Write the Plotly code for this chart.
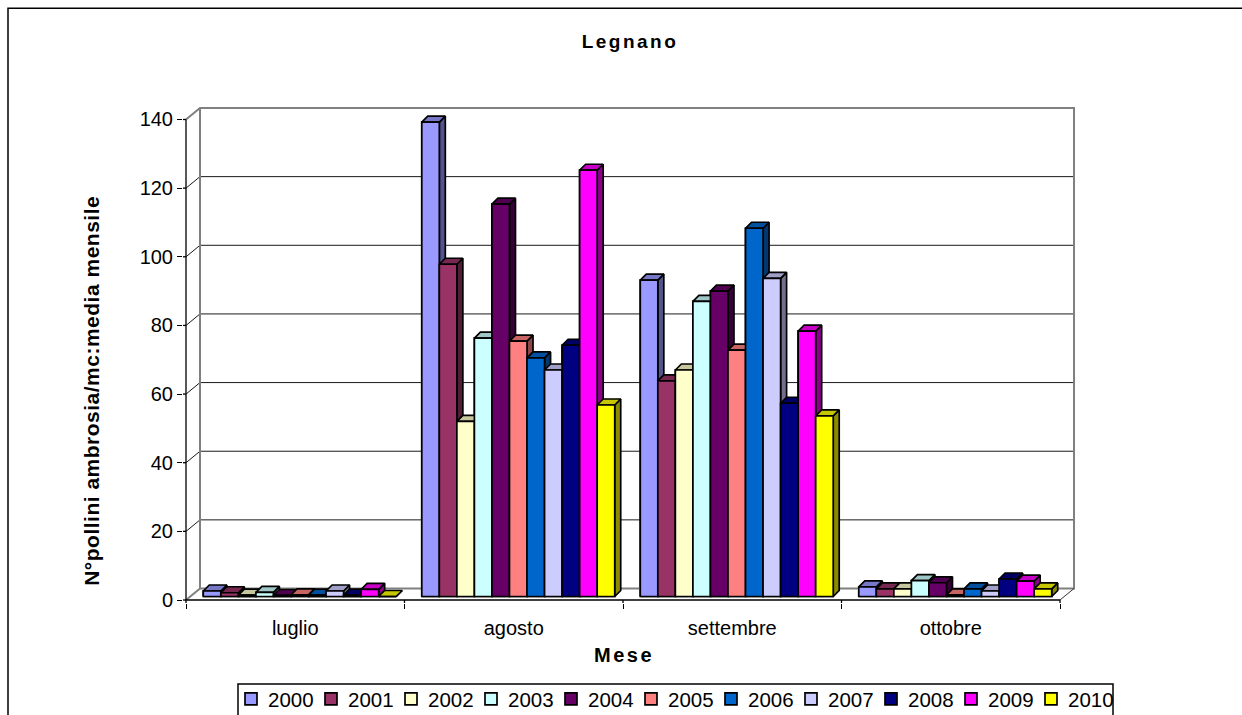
import plotly.graph_objects as go

months = ["luglio", "agosto", "settembre", "ottobre"]
years = ["2000", "2001", "2002", "2003", "2004", "2005", "2006", "2007", "2008", "2009", "2010"]
colors = ["#9999FF", "#993366", "#FFFFCC", "#CCFFFF", "#660066", "#FF8080",
          "#0066CC", "#CCCCFF", "#000080", "#FF00FF", "#FFFF00"]

v2000 = [1.6, 138.2, 92.2, 2.8]
v2001 = [1.1, 96.8, 62.8, 2.2]
v2002 = [0.4, 51.0, 66.0, 2.2]
v2003 = [1.2, 75.3, 86.0, 4.6]
v2004 = [0.3, 114.3, 89.0, 4.0]
v2005 = [0.5, 74.4, 71.8, 0.5]
v2006 = [0.4, 69.5, 107.3, 2.2]
v2007 = [1.6, 66.0, 92.7, 1.6]
v2008 = [0.4, 73.2, 56.3, 5.1]
v2009 = [2.1, 124.2, 77.3, 4.5]
v2010 = [0.0, 55.8, 52.6, 2.2]
series = [v2000, v2001, v2002, v2003, v2004, v2005, v2006, v2007, v2008, v2009, v2010]

y_ticks = [0, 20, 40, 60, 80, 100, 120, 140]

# pixel layout of the front axes
L, R, T, B = 186, 1060, 119.3, 600
W_PX, H_PX = 1242, 715
PX_X = (R - L) / 4
PX_Y = (B - T) / 140

# projection parameters
WALL_DX, WALL_DY = 14 / PX_X, 11.5 / PX_Y
BAR_DX, BAR_DY = 6 / PX_X, 6 / PX_Y
SHIFT = 4.5 / PX_X
BASE = 3.5 / PX_Y
GROUP = 0.883
BW = GROUP / len(years)
PAD = 3
PADX, PADY = PAD / PX_X, PAD / PX_Y

# the plot area also holds the back wall, with a small pad so edge lines are not clipped
PL, PR = L - PAD, R + 14 + PAD
PT, PB = T - 11.5 - PAD, B + PAD


def px(x):
    return (x - PL) / (PR - PL)


def py(y):
    return (PB - y) / (PB - PT)


def shade(hex_color, f):
    r, g, b = (int(hex_color[i:i + 2], 16) for i in (1, 3, 5))
    return f"rgb({round(r * f)},{round(g * f)},{round(b * f)})"


def lines(xs, ys, color, width):
    return go.Scatter(x=xs, y=ys, mode="lines", line=dict(color=color, width=width),
                      showlegend=False, hoverinfo="skip")


fig = go.Figure()
cats = [i + 0.5 + SHIFT for i in range(len(months))]

# native bars (front faces, legend)
for name, vals, col in zip(years, series, colors):
    fig.add_trace(go.Bar(x=cats, y=vals, base=[BASE] * len(vals), name=name,
                         marker=dict(color=col, line=dict(color="black", width=1.7)),
                         hoverinfo="skip"))

# back wall grid
gx, gy = [], []
for v in y_ticks[1:-1]:
    gx += [0, WALL_DX, 4 + WALL_DX, None]
    gy += [v, v + WALL_DY, v + WALL_DY, None]
fig.add_trace(lines(gx, gy, "#1a1a1a", 1))
top = 140 + WALL_DY
fig.add_trace(lines([0, WALL_DX, 4 + WALL_DX, 4 + WALL_DX, WALL_DX, WALL_DX, None, 0, WALL_DX],
                    [140, top, top, WALL_DY, WALL_DY, top, None, 0, WALL_DY], "#808080", 2))
fig.add_trace(lines([4, 4 + WALL_DX], [0, WALL_DY], "#333333", 1))

# 3D faces, left to right so each bar covers its neighbour's side
for k, (vals, col) in enumerate(zip(series, colors)):
    sx, sy, tx, ty, fx, fy = [], [], [], [], [], []
    for i, v in enumerate(vals):
        x0 = cats[i] - GROUP / 2 + k * BW
        x1 = x0 + BW
        y0 = BASE
        y1 = BASE + v
        sx += [x1, x1 + BAR_DX, x1 + BAR_DX, x1, x1, None]
        sy += [y0, y0 + BAR_DY, y1 + BAR_DY, y1, y0, None]
        tx += [x0, x0 + BAR_DX, x1 + BAR_DX, x1, x0, None]
        ty += [y1, y1 + BAR_DY, y1 + BAR_DY, y1, y1, None]
        fx += [x0, x1, x1, x0, x0, None]
        fy += [y0, y0, y1, y1, y0, None]
    for xs, ys, c in ((sx, sy, shade(col, 0.55)), (tx, ty, shade(col, 0.78)), (fx, fy, col)):
        fig.add_trace(go.Scatter(x=xs, y=ys, mode="lines", fill="toself", fillcolor=c,
                                 line=dict(color="black", width=1.7),
                                 showlegend=False, hoverinfo="skip"))

# front axis lines with tick stubs up to the plot-area edge
ax, ay = [0, 0, 4, None], [140, 0, 0, None]
for v in y_ticks:
    ax += [-PADX, 0, None]
    ay += [v, v, None]
for i in range(5):
    ax += [i, i, None]
    ay += [0, -PADY, None]
fig.add_trace(lines(ax, ay, "black", 1.3))

FONT = "Liberation Sans, Arial, sans-serif"
fig.update_layout(
    width=W_PX, height=H_PX,
    margin=dict(l=PL, r=W_PX - PR, t=PT, b=H_PX - PB, autoexpand=False),
    paper_bgcolor="white", plot_bgcolor="white",
    font=dict(family=FONT, size=20, color="black"),
    barmode="group", bargap=1 - GROUP, bargroupgap=0,
    title=dict(text="<b>Legnano</b>", x=630 / W_PX, xref="container", xanchor="center",
               y=1 - 41 / H_PX, yanchor="middle", font=dict(size=19)),
    xaxis=dict(range=[-PADX, 4 + WALL_DX + PADX], tickmode="array", tickvals=[i + 0.5 for i in range(4)],
               ticktext=months, ticks="", showgrid=False, zeroline=False, showline=False,
               minor=dict(tickmode="array", tickvals=[0, 1, 2, 3, 4], ticks="outside", ticklen=5,
                          tickcolor="black", tickwidth=1.3, showgrid=False),
               tickfont=dict(size=20), ticklabelstandoff=11),
    yaxis=dict(range=[-PADY, 140 + WALL_DY + PADY], tickmode="array", tickvals=y_ticks, ticks="outside",
               ticklen=5, tickcolor="black", tickwidth=1.3, showgrid=False, zeroline=False, showline=False,
               tickfont=dict(size=20)),
    legend=dict(orientation="h", xref="container", yref="container", x=228 / W_PX, xanchor="left",
                y=1 - 679 / H_PX, yanchor="top", entrywidth=35, entrywidthmode="pixels", borderwidth=0,
                bgcolor="rgba(0,0,0,0)", font=dict(size=20.5), traceorder="normal"),
    annotations=[
        dict(text="<b>N°pollini ambrosia/mc:media mensile</b>", textangle=-90,
             x=px(91), y=py(391), xref="paper", yref="paper", xanchor="center",
             yanchor="middle", showarrow=False, font=dict(size=21)),
        dict(text="<b>Mese</b>", x=px(624), y=py(655), xref="paper", yref="paper", xanchor="center",
             yanchor="middle", showarrow=False, font=dict(size=20)),
    ],
    shapes=[
        dict(type="rect", xref="paper", yref="paper", x0=px(8), y0=py(800), x1=px(1400), y1=py(8),
             line=dict(color="black", width=1.5), layer="below"),
        dict(type="rect", xref="paper", yref="paper", x0=px(238), y0=py(800), x1=px(1113), y1=py(684),
             line=dict(color="black", width=1.5), layer="below"),
    ],
)

post = """
document.body.style.margin='0';document.body.style.overflow='hidden';
document.head.insertAdjacentHTML('beforeend','<style>.gtitle{letter-spacing:2.5px}.annotation-text{letter-spacing:0.5px}.annotation[data-index="1"] .annotation-text{letter-spacing:2.5px}.legendsymbols{transform:translate(3px,0)}.legend .scrollbox{clip-path:none !important}</style>');
"""
fig.write_html("out.html", post_script=post, config=dict(displayModeBar=False))
